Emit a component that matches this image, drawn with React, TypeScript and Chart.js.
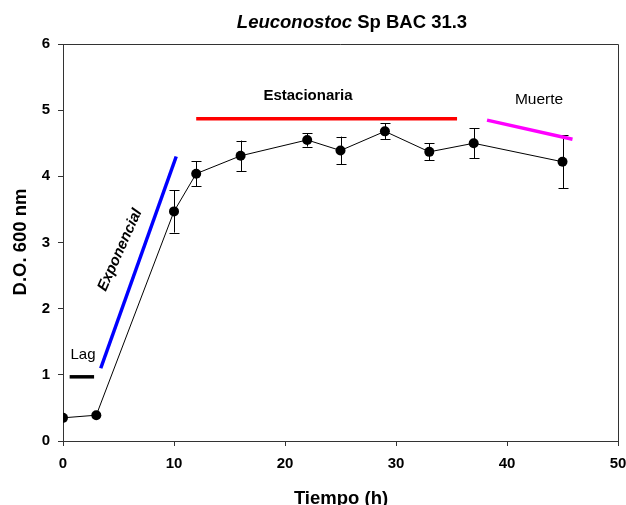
import React, { useEffect, useRef } from "react";
import { Chart, registerables } from "chart.js";

Chart.register(...registerables);

const hours = [0, 3, 10, 12, 16, 22, 25, 29, 33, 37, 45];
const od = [0.35, 0.39, 3.47, 4.04, 4.31, 4.55, 4.39, 4.68, 4.37, 4.5, 4.22];
const odErr = [0, 0, 0.32, 0.19, 0.23, 0.1, 0.21, 0.12, 0.13, 0.23, 0.4];

const lagX = [0.6, 2.8];
const lagY = [0.97, 0.97];
const expX = [3.4, 10.2];
const expY = [1.1, 4.3];
const statX = [12.0, 35.5];
const statY = [4.87, 4.87];
const deathX = [38.2, 45.9];
const deathY = [4.85, 4.56];

const xTicks = [0, 10, 20, 30, 40, 50];
const yTicks = [0, 1, 2, 3, 4, 5, 6];

const FONT = "'Liberation Sans', Arial, sans-serif";

const pts = (xs: number[], ys: number[]) => xs.map((x, i) => ({ x, y: ys[i] }));

const extrasPlugin = {
  id: "extras",
  beforeDatasetsDraw(chart: any) {
    const { ctx, scales } = chart;
    const xs = scales.x;
    const ys = scales.y;
    ctx.save();
    ctx.strokeStyle = "#000";
    ctx.lineWidth = 1;
    hours.forEach((h, i) => {
      const e = odErr[i];
      if (!e) return;
      const px = Math.round(xs.getPixelForValue(h)) + 0.5;
      const top = ys.getPixelForValue(od[i] + e);
      const bot = ys.getPixelForValue(od[i] - e);
      ctx.beginPath();
      ctx.moveTo(px, top);
      ctx.lineTo(px, bot);
      ctx.moveTo(px - 5, Math.round(top) + 0.5);
      ctx.lineTo(px + 5, Math.round(top) + 0.5);
      ctx.moveTo(px - 5, Math.round(bot) + 0.5);
      ctx.lineTo(px + 5, Math.round(bot) + 0.5);
      ctx.stroke();
    });
    ctx.restore();
  },
  afterDatasetsDraw(chart: any) {
    const { ctx, chartArea } = chart;
    ctx.save();
    // frame top and right
    ctx.strokeStyle = "#333";
    ctx.lineWidth = 1;
    ctx.beginPath();
    ctx.moveTo(chartArea.left, Math.round(chartArea.top) + 0.5);
    ctx.lineTo(Math.round(chartArea.right) + 0.5, Math.round(chartArea.top) + 0.5);
    ctx.lineTo(Math.round(chartArea.right) + 0.5, chartArea.bottom);
    ctx.stroke();

    ctx.fillStyle = "#000";
    ctx.textBaseline = "middle";
    ctx.textAlign = "center";
    // phase labels
    ctx.font = `15px ${FONT}`;
    ctx.fillText("Lag", 83, 355);
    ctx.font = `15.5px ${FONT}`;
    ctx.fillText("Muerte", 539, 100);
    ctx.font = `bold 15px ${FONT}`;
    ctx.fillText("Estacionaria", 308, 96);
    ctx.save();
    ctx.translate(120, 250);
    ctx.rotate((-65.8 * Math.PI) / 180);
    ctx.font = `italic bold 15px ${FONT}`;
    ctx.fillText("Exponencial", 0, 0);
    ctx.restore();

    // title with mixed styles
    const part1 = "Leuconostoc";
    const part2 = " Sp BAC 31.3";
    const tsize = 18.5;
    ctx.font = `italic bold ${tsize}px ${FONT}`;
    const w1 = ctx.measureText(part1).width;
    ctx.font = `bold ${tsize}px ${FONT}`;
    const w2 = ctx.measureText(part2).width;
    const startX = 352 - (w1 + w2) / 2;
    ctx.textAlign = "left";
    ctx.font = `italic bold ${tsize}px ${FONT}`;
    ctx.fillText(part1, startX, 23);
    ctx.font = `bold ${tsize}px ${FONT}`;
    ctx.fillText(part2, startX + w1, 23);

    // axis titles
    ctx.textAlign = "center";
    ctx.font = `bold 18.5px ${FONT}`;
    ctx.fillText("Tiempo (h)", 341, 499);
    ctx.save();
    ctx.translate(21, 242);
    ctx.rotate(-Math.PI / 2);
    ctx.fillText("D.O. 600 nm", 0, 0);
    ctx.restore();
    ctx.restore();
  },
};

export default function App() {
  const ref = useRef<HTMLCanvasElement>(null);
  useEffect(() => {
    document.body.style.margin = "0";
    const canvas = ref.current!;
    const lineDs = (label: string, xs: number[], ys: number[], color: string) => ({
      label,
      data: pts(xs, ys),
      showLine: true,
      borderColor: color,
      backgroundColor: color,
      borderWidth: 3.5,
      pointRadius: 0,
      borderCapStyle: "butt",
    });
    const chart = new Chart(canvas, {
      type: "scatter",
      data: {
        datasets: [
          {
            label: "D.O.",
            data: pts(hours, od),
            showLine: true,
            borderColor: "#000",
            backgroundColor: "#000",
            borderWidth: 1,
            pointRadius: 5,
            pointBorderWidth: 0,
          },
          lineDs("Lag", lagX, lagY, "#000000"),
          lineDs("Exponencial", expX, expY, "#0000ff"),
          lineDs("Estacionaria", statX, statY, "#ff0000"),
          lineDs("Muerte", deathX, deathY, "#ff00ff"),
        ] as any,
      },
      options: {
        animation: false,
        responsive: false,
        maintainAspectRatio: false,
        layout: { padding: { left: 0, right: 0, top: 44, bottom: 0 } },
        plugins: { legend: { display: false }, tooltip: { enabled: false }, title: { display: false } },
        scales: {
          x: {
            type: "linear",
            min: 0,
            max: 50,
            afterBuildTicks: (s: any) => {
              s.ticks = xTicks.map((v) => ({ value: v }));
            },
            afterFit: (s: any) => {
              s.height = 64;
              s.paddingRight = 8;
              s.paddingLeft = 0;
            },
            grid: { display: true, drawOnChartArea: false, drawTicks: true, tickLength: 5, color: "#333", tickWidth: 1 },
            border: { display: true, color: "#333", width: 1 },
            ticks: { color: "#000", font: { family: FONT, size: 15, weight: "bold" }, padding: 9, maxRotation: 0 },
          },
          y: {
            type: "linear",
            min: 0,
            max: 6,
            afterBuildTicks: (s: any) => {
              s.ticks = yTicks.map((v) => ({ value: v }));
            },
            afterFit: (s: any) => {
              s.width = 63;
              s.paddingTop = 0;
              s.paddingBottom = 0;
            },
            grid: { display: true, drawOnChartArea: false, drawTicks: true, tickLength: 5, color: "#333", tickWidth: 1 },
            border: { display: true, color: "#333", width: 1 },
            ticks: { color: "#000", font: { family: FONT, size: 15, weight: "bold" }, padding: 8 },
          },
        },
      } as any,
      plugins: [extrasPlugin],
    });
    return () => chart.destroy();
  }, []);
  return <canvas ref={ref} width={626} height={505} style={{ display: "block" }} />;
}
